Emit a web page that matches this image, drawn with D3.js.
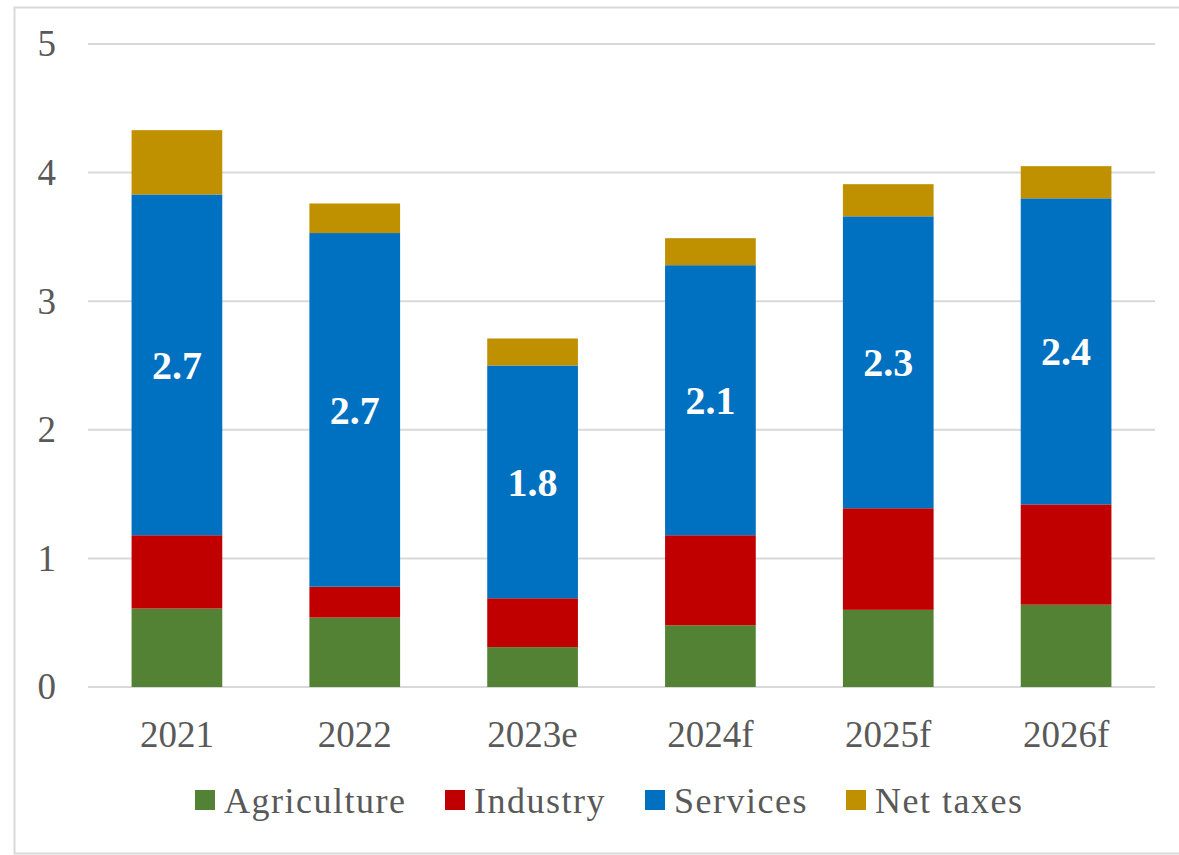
<!DOCTYPE html>
<html>
<head>
<meta charset="utf-8">
<script src="https://cdn.jsdelivr.net/npm/d3@7"></script>
<style>
body{margin:0;background:#fff;}
text{font-family:"Liberation Serif","Times New Roman",serif;}
</style>
</head>
<body>
<div id="chart"></div>
<script>
let years=["2021","2022","2023e","2024f","2025f","2026f"];
let agriculture=[0.61,0.54,0.31,0.48,0.60,0.64];
let industry=[0.57,0.24,0.38,0.70,0.79,0.78];
let services=[2.65,2.75,1.81,2.10,2.27,2.38];
let netTaxes=[0.50,0.23,0.21,0.21,0.25,0.25];
let serviceLabels=["2.7","2.7","1.8","2.1","2.3","2.4"];
let yTicks=[0,1,2,3,4,5];

let seriesNames=["Agriculture","Industry","Services","Net taxes"];
let colors=["#548235","#C00000","#0070C0","#BF9000"];

let width=1179;
let height=855;

let rows=years.map(function(y,i){
    return {year:y,Agriculture:agriculture[i],Industry:industry[i],Services:services[i],"Net taxes":netTaxes[i]};
});

let svg=d3.select("#chart").append("svg")
.attr("width",width)
.attr("height",height);

// frame
svg.append("rect")
.attr("x",14.5).attr("y",7.5)
.attr("width",width+10).attr("height",846)
.attr("fill","none").attr("stroke","#d9d9d9").attr("stroke-width",2);

let xscale=d3.scaleBand().domain(years).range([88,1155]).paddingInner(0.49).paddingOuter(0.245);
let yscale=d3.scaleLinear().domain([0,5]).range([687,44]);

// gridlines
svg.append("g").selectAll("line")
.data(yTicks)
.enter().append("line")
.attr("x1",88).attr("x2",1155)
.attr("y1",d=>yscale(d)).attr("y2",d=>yscale(d))
.attr("stroke","#d9d9d9").attr("stroke-width",2);

let yAxis=d3.axisLeft(yscale).tickValues(yTicks).tickFormat(d3.format("d")).tickSize(0).tickPadding(0);
let gy=svg.append("g").attr("transform","translate(56,0)").call(yAxis);
gy.select(".domain").remove();
gy.selectAll("text").attr("font-size",37).attr("fill","#595959");

let stack=d3.stack().keys(seriesNames);
let layers=stack(rows);

svg.append("g").selectAll("g")
.data(layers)
.enter().append("g")
.attr("fill",(d,i)=>colors[i])
.selectAll("rect")
.data(d=>d)
.enter().append("rect")
.attr("x",d=>xscale(d.data.year))
.attr("width",xscale.bandwidth())
.attr("y",d=>yscale(d[1]))
.attr("height",d=>yscale(d[0])-yscale(d[1]));

// services labels
svg.append("g").selectAll("text")
.data(layers[2])
.enter().append("text")
.attr("x",d=>xscale(d.data.year)+xscale.bandwidth()/2)
.attr("y",d=>(yscale(d[0])+yscale(d[1]))/2)
.attr("dy","0.35em")
.attr("text-anchor","middle")
.attr("font-size",40).attr("font-weight","bold").attr("fill","#fff")
.text((d,i)=>serviceLabels[i]);

let xAxis=d3.axisBottom(xscale).tickSize(0).tickPadding(0);
let gx=svg.append("g").attr("transform","translate(0,721)").call(xAxis);
gx.select(".domain").remove();
gx.selectAll("text").attr("font-size",37).attr("fill","#595959").attr("dy","0.71em");

// legend
let legendX=[195,445,645,846];
let legend=svg.append("g").selectAll("g")
.data(seriesNames)
.enter().append("g")
.attr("transform",(d,i)=>"translate("+legendX[i]+",790)");
legend.append("rect").attr("width",20).attr("height",20).attr("fill",(d,i)=>colors[i]);
legend.append("text").attr("x",29).attr("y",10).attr("dy","0.35em")
.attr("font-size",36).attr("fill","#595959").attr("letter-spacing",1.5)
.text(d=>d);
</script>
</body>
</html>
